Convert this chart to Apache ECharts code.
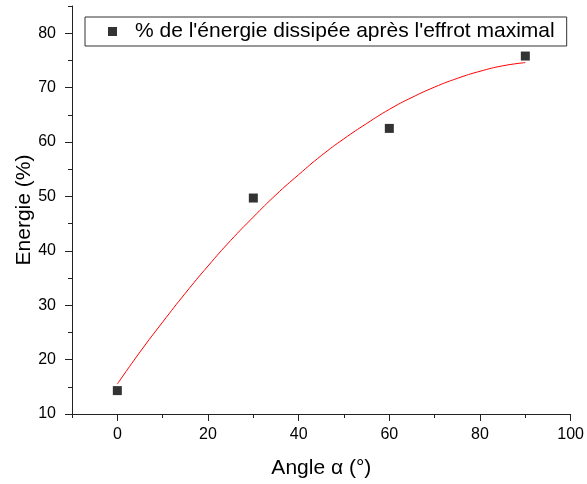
<!DOCTYPE html>
<html>
<head>
<meta charset="utf-8">
<script src="https://cdn.jsdelivr.net/npm/echarts@6/dist/echarts.min.js"></script>
<style>
html,body{margin:0;padding:0;background:#fff;}
#chart{width:587px;height:484px;}
</style>
</head>
<body>
<div id="chart"></div>
<script>
// Measured points
var angles = [0, 30, 60, 90];
var energy = [14.3, 49.7, 62.5, 75.8];
// Red fitted curve
var fitAngles = [0, 5, 10, 15, 20, 25, 30, 35, 40, 45, 50, 55, 60, 65, 70, 75, 80, 85, 90];
var fitEnergy = [15.5, 21.4, 26.9, 32.2, 37.2, 41.9, 46.2, 50.3, 54.0, 57.5, 60.6, 63.4, 66.0, 68.2, 70.1, 71.7, 73.0, 74.0, 74.6];
// Axis ticks
var xMajor = [0, 20, 40, 60, 80, 100];
var xMinor = [-10, 10, 30, 50, 70, 90];
var yMajor = [10, 20, 30, 40, 50, 60, 70, 80];
var yMinor = [15, 25, 35, 45, 55, 65, 75, 85];
var legendName = "% de l'énergie dissipée après l'effrot maximal";

var FONT = "'Liberation Sans', Arial, sans-serif";
var AX = '#222';

var scatterData = angles.map(function (a, i) { return [a, energy[i]]; });
var fitData = fitAngles.map(function (a, i) { return [a, fitEnergy[i]]; });

var chart = echarts.init(document.getElementById('chart'), null, {renderer: 'canvas'});
chart.setOption({
  animation: false,
  backgroundColor: '#fff',
  textStyle: {fontFamily: FONT},
  grid: {left: 72, right: 8, top: 6, bottom: 69, containLabel: false},
  legend: {
    data: [legendName],
    left: 85, top: 17,
    padding: [4, 12, 4, 23],
    itemWidth: 9, itemHeight: 9,
    icon: 'rect',
    borderColor: '#333', borderWidth: 1,
    textStyle: {fontSize: 21, color: '#000', fontFamily: FONT, padding: [0, 0, 0, 13]}
  },
  xAxis: [{
    type: 'value', min: -10, max: 100,
    name: 'Angle α (°)', nameLocation: 'middle', nameGap: 44,
    nameTextStyle: {fontSize: 21, color: '#000', fontFamily: FONT},
    axisLine: {show: true, onZero: false, lineStyle: {color: AX, width: 1}},
    axisTick: {show: true, inside: false, length: 7, customValues: xMajor, lineStyle: {color: AX}},
    axisLabel: {customValues: xMajor, fontSize: 16, color: '#000', margin: 13, fontFamily: FONT},
    splitLine: {show: false}
  }, {
    type: 'value', min: -10, max: 100, position: 'bottom', gridIndex: 0,
    axisLine: {show: false, onZero: false},
    axisTick: {show: true, length: 4, customValues: xMinor, lineStyle: {color: AX}},
    axisLabel: {show: false},
    splitLine: {show: false}
  }],
  yAxis: [{
    type: 'value', min: 10, max: 85,
    name: 'Energie (%)', nameLocation: 'middle', nameGap: 37,
    nameMoveOverlap: false,
    nameTextStyle: {fontSize: 21, color: '#000', fontFamily: FONT},
    axisLine: {show: true, onZero: false, lineStyle: {color: AX, width: 1}},
    axisTick: {show: true, inside: false, length: 7, customValues: yMajor, lineStyle: {color: AX}},
    axisLabel: {customValues: yMajor, fontSize: 16, color: '#000', margin: 16, fontFamily: FONT},
    splitLine: {show: false}
  }, {
    type: 'value', min: 10, max: 85, position: 'left', gridIndex: 0,
    axisLine: {show: false, onZero: false},
    axisTick: {show: true, length: 4, customValues: yMinor, lineStyle: {color: AX}},
    axisLabel: {show: false},
    splitLine: {show: false}
  }],
  series: [{
    name: 'fit', type: 'line', data: fitData,
    smooth: true, showSymbol: false, symbol: 'none',
    lineStyle: {color: '#ff0000', width: 1},
    z: 2
  }, {
    name: legendName, type: 'scatter', data: scatterData,
    symbol: 'rect', symbolSize: 9,
    itemStyle: {color: '#000'},
    z: 3
  }]
});
</script>
</body>
</html>
